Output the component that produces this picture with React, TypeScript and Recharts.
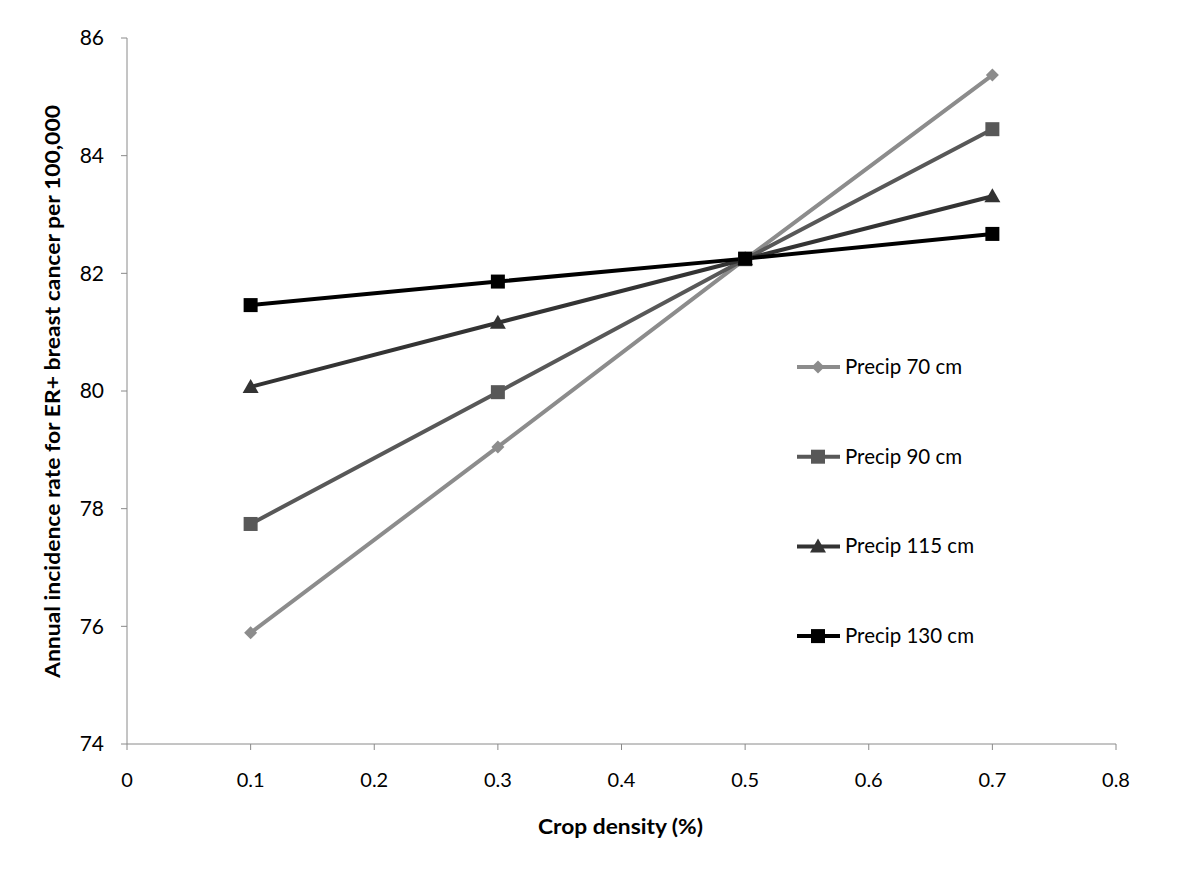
import React from 'react';
import { LineChart, Line, XAxis, YAxis } from 'recharts';

const cropDensity = [0.1, 0.3, 0.5, 0.7];
const precip70 = [75.89, 79.05, 82.24, 85.37];
const precip90 = [77.74, 79.98, 82.24, 84.45];
const precip115 = [80.07, 81.16, 82.24, 83.31];
const precip130 = [81.46, 81.86, 82.25, 82.67];
const xTicks = [0, 0.1, 0.2, 0.3, 0.4, 0.5, 0.6, 0.7, 0.8];
const yTicks = [74, 76, 78, 80, 82, 84, 86];

const seriesNames = ['Precip 70 cm', 'Precip 90 cm', 'Precip 115 cm', 'Precip 130 cm'];
const seriesKeys = ['p70', 'p90', 'p115', 'p130'];
const seriesColors = ['#8c8c8c', '#585858', '#333333', '#000000'];
const seriesShapes = ['diamond', 'square', 'triangle', 'square'];

const data = cropDensity.map((x, i) => ({
  x,
  p70: precip70[i],
  p90: precip90[i],
  p115: precip115[i],
  p130: precip130[i],
}));

function Marker({ cx, cy, shape, color }: { cx: number; cy: number; shape: string; color: string }) {
  if (cx == null || cy == null) return null;
  if (shape === 'diamond') {
    const r = 6.5;
    return <polygon points={`${cx},${cy - r} ${cx + r},${cy} ${cx},${cy + r} ${cx - r},${cy}`} fill={color} />;
  }
  if (shape === 'triangle') {
    const r = 8;
    return <polygon points={`${cx},${cy - r} ${cx + r},${cy + r * 0.75} ${cx - r},${cy + r * 0.75}`} fill={color} />;
  }
  const s = 14;
  return <rect x={cx - s / 2} y={cy - s / 2} width={s} height={s} fill={color} />;
}

const font = 'Lato, "Open Sans", sans-serif';

export default function App() {
  return (
    <div style={{ position: 'absolute', left: 0, top: 0, width: 1200, height: 876, background: '#fff' }}>
      <LineChart width={1200} height={876} data={data} margin={{ top: 38, right: 84, bottom: 72, left: 67 }}>
        <XAxis
          dataKey="x"
          type="number"
          domain={[0, 0.8]}
          ticks={xTicks}
          tickFormatter={(v: number) => String(v)}
          stroke="#8a8a8a"
          tickSize={6}
          tickMargin={23}
          height={60}
          tick={{ fill: '#000', fontSize: 20, fontFamily: font }}
          interval={0}
        />
        <YAxis
          type="number"
          domain={[74, 86]}
          ticks={yTicks}
          stroke="#8a8a8a"
          tickSize={6}
          tickMargin={17}
          width={60}
          tick={{ fill: '#000', fontSize: 21, fontFamily: font }}
          interval={0}
        />
        {seriesKeys.map((k, i) => (
          <Line
            key={k}
            dataKey={k}
            name={seriesNames[i]}
            stroke={seriesColors[i]}
            strokeWidth={4}
            isAnimationActive={false}
            dot={(p: any) => <Marker key={`${k}-${p.index}`} cx={p.cx} cy={p.cy} shape={seriesShapes[i]} color={seriesColors[i]} />}
            activeDot={false}
          />
        ))}
      </LineChart>
      <div
        style={{
          position: 'absolute',
          left: 0,
          top: 0,
          width: 1200,
          height: 876,
          pointerEvents: 'none',
        }}
      >
        <svg width={1200} height={876}>
          <text
            x={620.5}
            y={834}
            textAnchor="middle"
            fontFamily={font}
            fontWeight="bold"
            fontSize={21}
            textLength={165}
            lengthAdjust="spacingAndGlyphs"
            fill="#000"
          >
            Crop density (%)
          </text>
          <text
            transform="translate(60,391.5) rotate(-90)"
            textAnchor="middle"
            fontFamily={font}
            fontWeight="bold"
            fontSize={21}
            textLength={573}
            lengthAdjust="spacingAndGlyphs"
            fill="#000"
          >
            Annual incidence rate for ER+ breast cancer per 100,000
          </text>
          {seriesNames.map((n, i) => {
            const y = 367 + i * 89.7;
            return (
              <g key={n}>
                <line x1={797} x2={840} y1={y} y2={y} stroke={seriesColors[i]} strokeWidth={4} />
                <Marker cx={818} cy={y} shape={seriesShapes[i]} color={seriesColors[i]} />
                <text x={845} y={y + 7} fontFamily={font} fontSize={20.5} fill="#000">
                  {n}
                </text>
              </g>
            );
          })}
        </svg>
      </div>
    </div>
  );
}
